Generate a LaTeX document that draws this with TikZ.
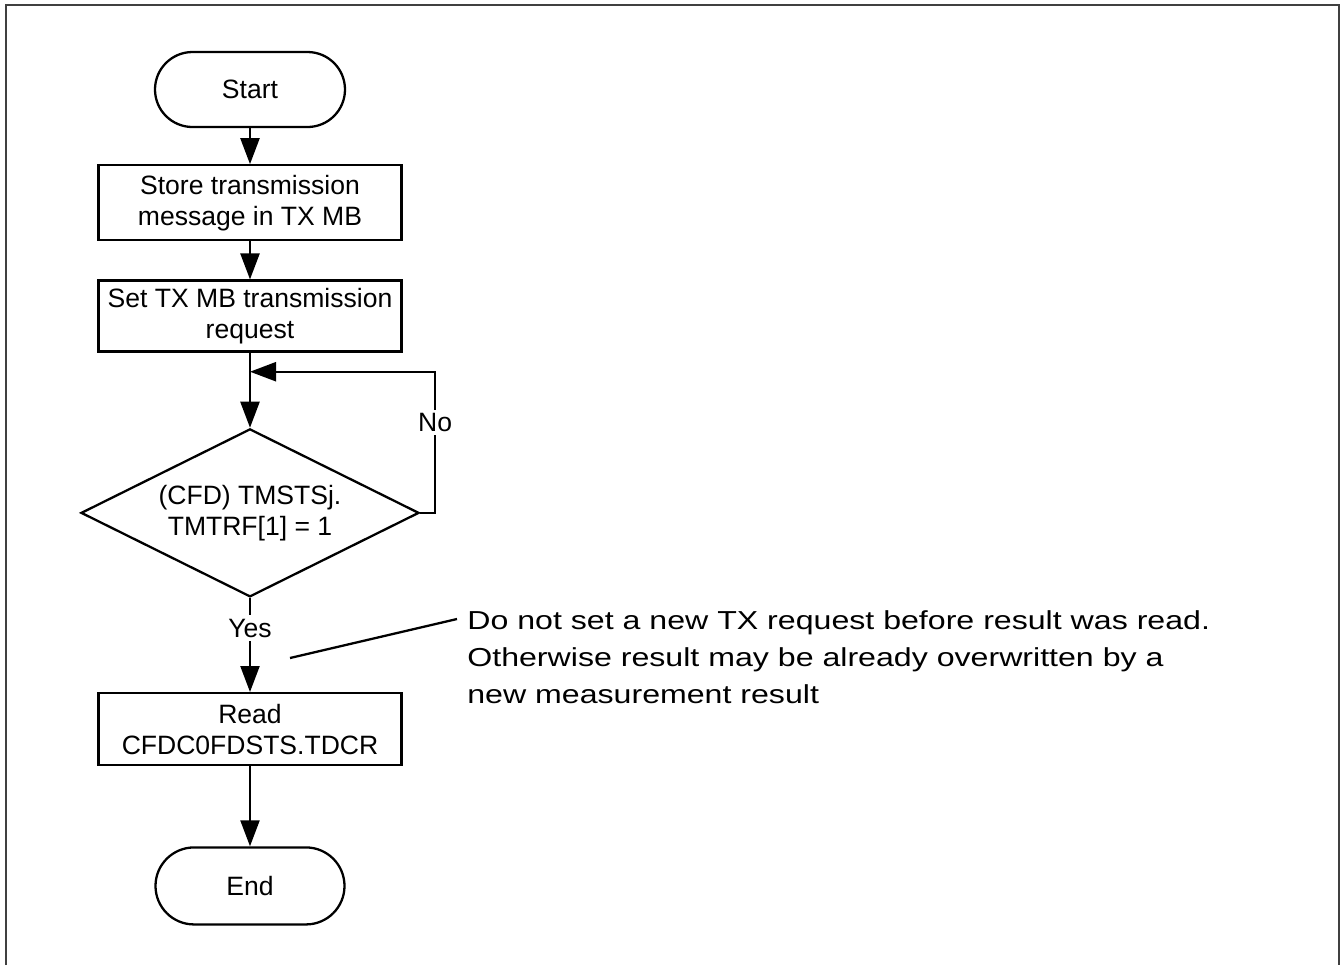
\documentclass[tikz,border=0pt]{standalone}
\usepackage{fontspec}
\setmainfont{Liberation Sans}
\newfontfamily\notefont[FakeStretch=1.235]{Liberation Sans}
\definecolor{framegray}{HTML}{404040}
\usepackage{tikz}
\usetikzlibrary{shapes.geometric,arrows.meta,positioning,calc}

\begin{document}
\begin{tikzpicture}[
      terminal/.style={draw, line width=1.3pt, rounded corners=0.75cm, minimum width=3.8cm, minimum height=1.5cm, align=center},
      stepbox/.style={draw, line width=1.3pt, minimum width=6.06cm, minimum height=1.5cm, align=center},
      decision/.style={draw, line width=1.3pt, diamond, aspect=2, minimum width=6.76cm, minimum height=3.36cm, inner sep=0pt, align=center},
      flow/.style={line width=1.3pt, -{Triangle[length=0.52cm, width=0.38cm]}},
      lbl/.style={fill=white, inner sep=2pt},
      font=\fontsize{15.1}{17.6}\selectfont,
      node distance=0.72cm
    ]
    \useasboundingbox (0,0) rectangle (26.82,-19.30);
    \draw[framegray, line width=1.2pt] (0.12,-19.30) |- (26.78,-0.10) -- (26.78,-19.30);

    \node[terminal] (start) at (5,-1.79) {Start};
    \node[stepbox, below=of start] (store) {Store transmission\\message in TX MB};
    \node[stepbox, below=0.76cm of store, minimum height=1.42cm] (txreq) {Set TX MB transmission\\request};
    \node[decision, below=1.5cm of txreq] (check) {(CFD) TMSTSj.\\TMTRF[1] = 1};
    \node[stepbox, below=1.88cm of check, minimum height=1.44cm] (read) {Read\\CFDC0FDSTS.TDCR};
    \node[terminal, below=1.6cm of read, minimum width=3.78cm, minimum height=1.54cm, rounded corners=0.77cm] (finish) {End};
    \coordinate (loopjoin) at ([yshift=-0.38cm]txreq.south);
    \coordinate (hint) at (5.8,-13.16);
    \node[anchor=north west, inner xsep=0.2cm, inner ysep=0pt, align=left,
          font=\notefont\fontsize{14.8}{21}\selectfont] (note) at (9.14,-12.2)
      {Do not set a new TX request before result was read.\\Otherwise result may be already overwritten by a\\new measurement result};

    \foreach \a/\b in {start/store, store/txreq, txreq/check, read/finish} { \draw[flow] (\a) -- (\b); }
    \draw[flow] (check.east) -- ++(0.3,0) |- node[lbl, pos=0.32] {No} (loopjoin);
    \draw[flow] (check.south) -- node[lbl, pos=0.32] {Yes} (read.north);
    \draw[line width=1.3pt] (hint) -- ([yshift=-0.18cm]note.north west);
  \end{tikzpicture}
\end{document}
